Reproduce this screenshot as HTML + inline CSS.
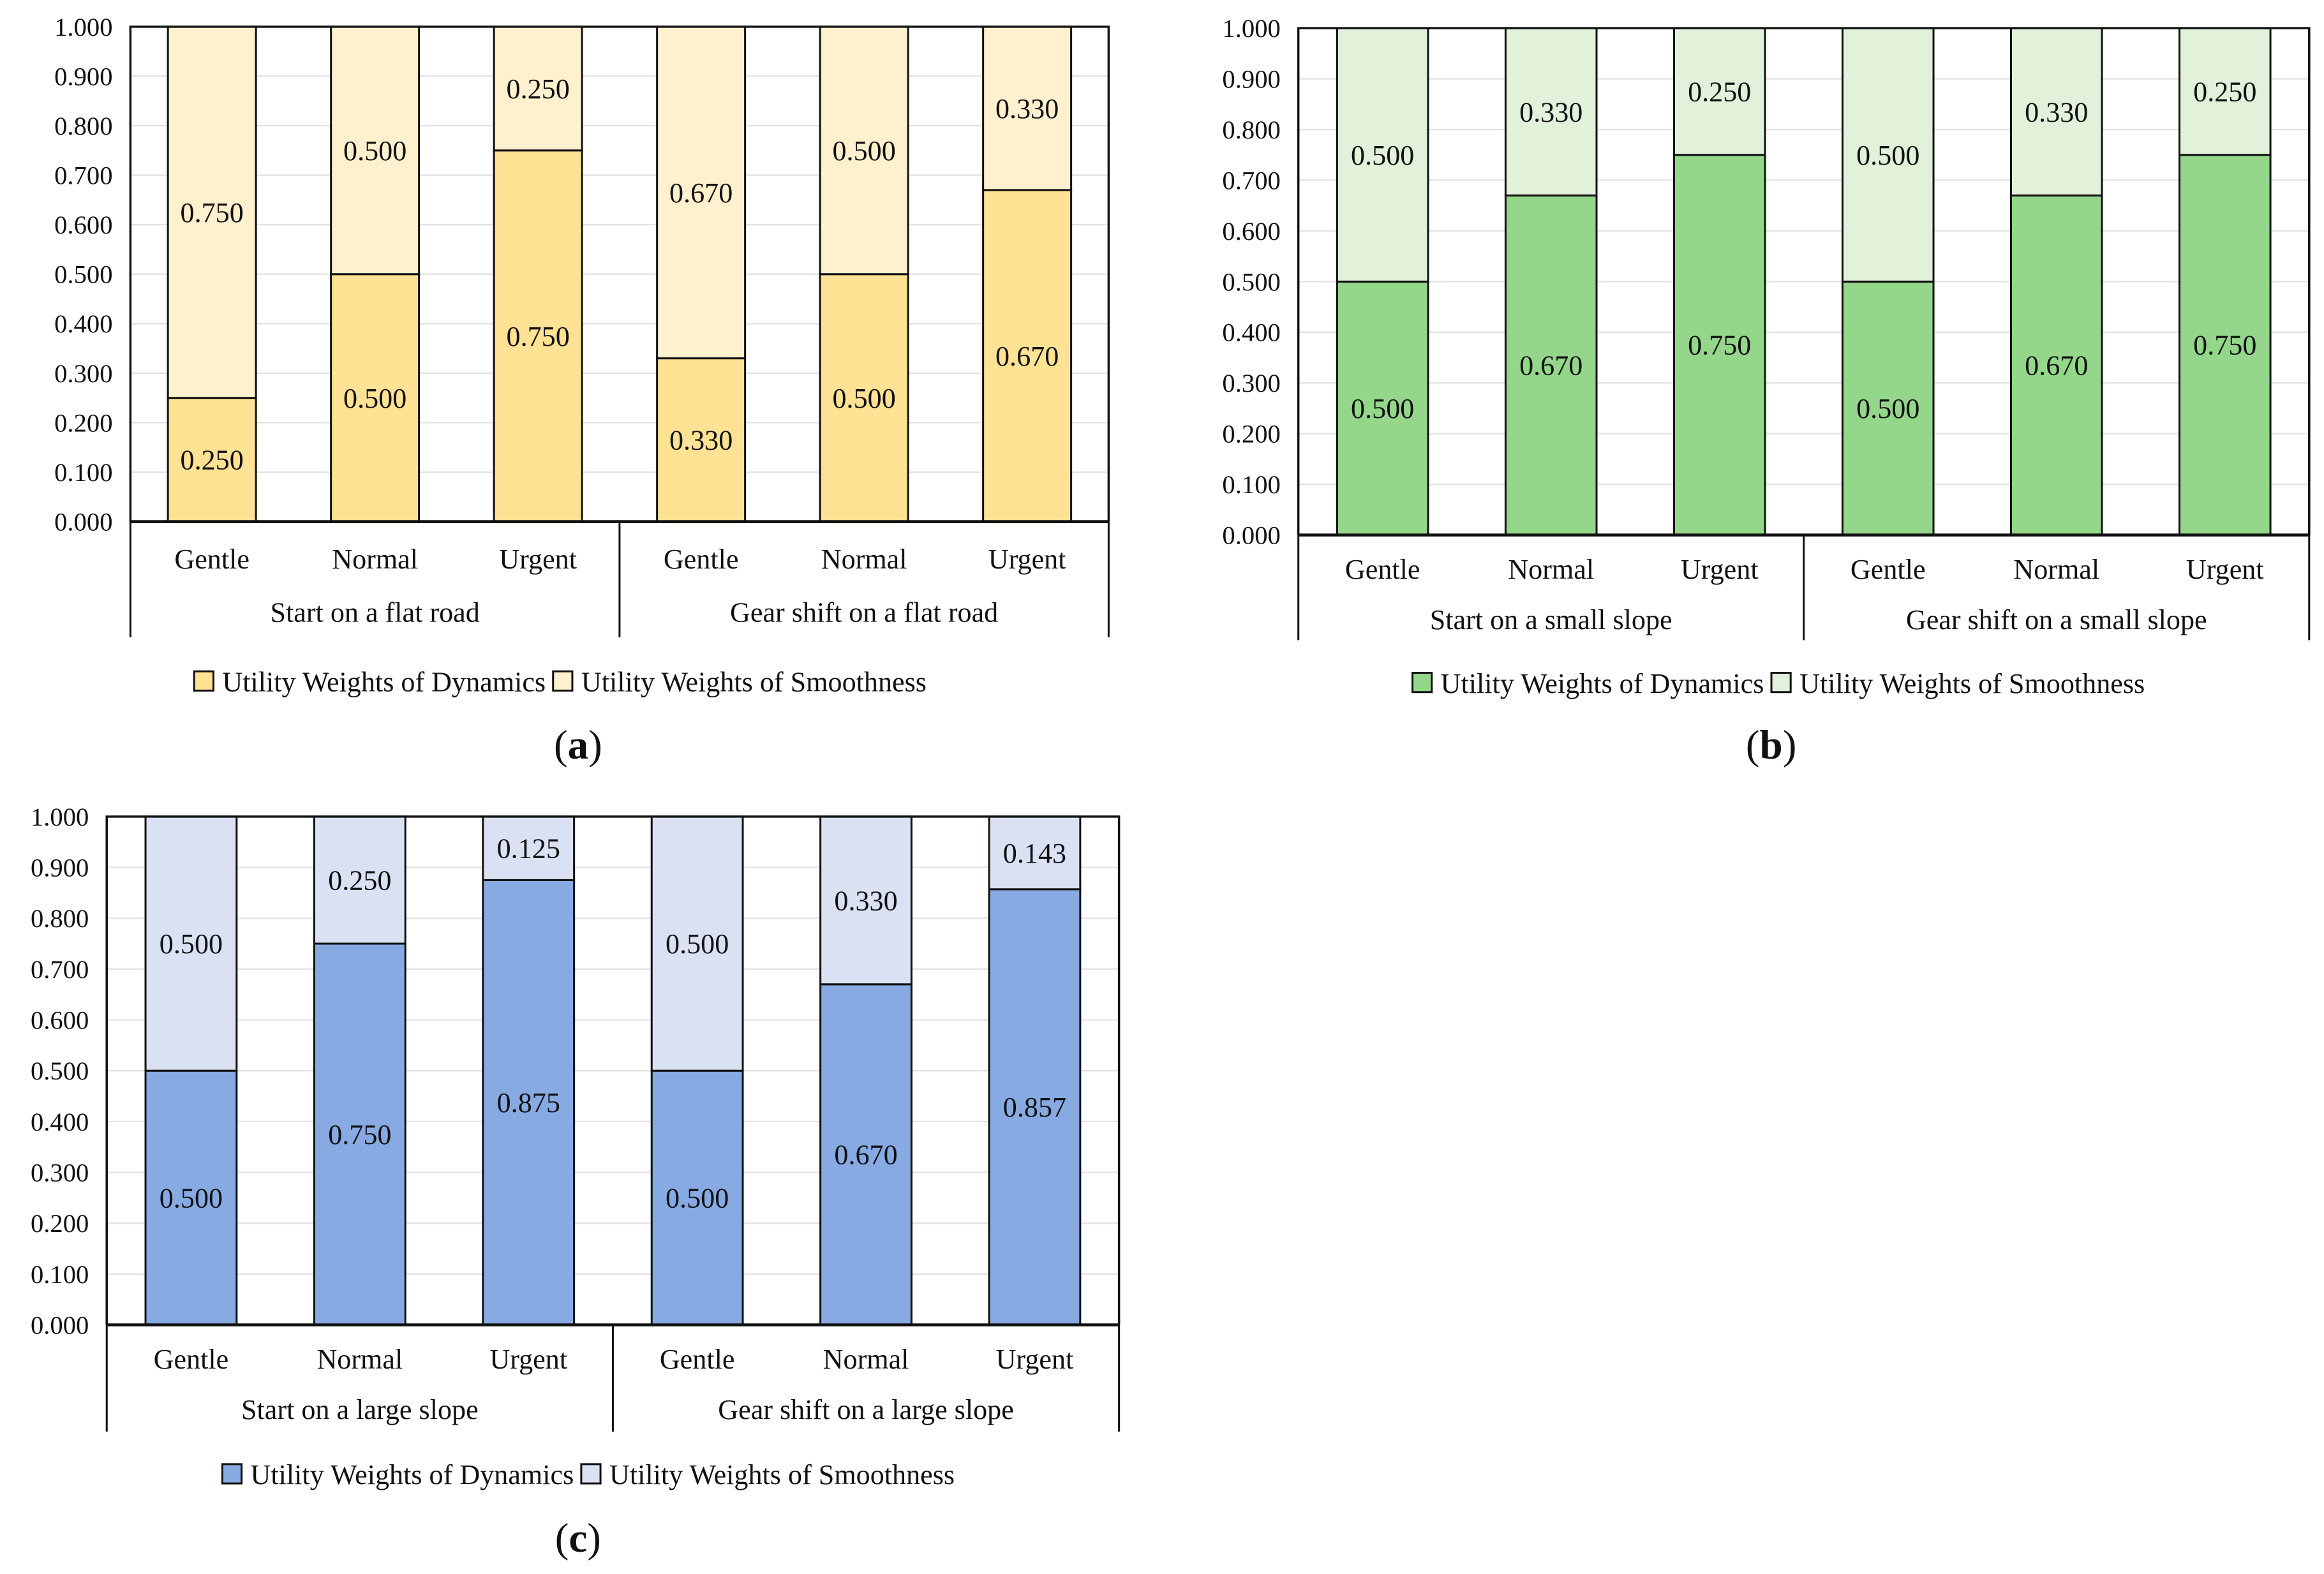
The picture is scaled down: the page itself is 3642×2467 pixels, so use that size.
<!DOCTYPE html>
<html><head><meta charset="utf-8"><style>
html,body{margin:0;padding:0;background:#fff;}
svg{display:block;font-family:"Liberation Serif",serif;}
</style></head><body>
<svg id="root" xmlns="http://www.w3.org/2000/svg" width="3642" height="2467" viewBox="0 0 1568 1062.1"></svg>
<script>
const tickValues=[0,0.1,0.2,0.3,0.4,0.5,0.6,0.7,0.8,0.9,1.0];
const categories=["Gentle","Normal","Urgent","Gentle","Normal","Urgent"];
const groupsA=["Start on a flat road","Gear shift on a flat road"];
const groupsB=["Start on a small slope","Gear shift on a small slope"];
const groupsC=["Start on a large slope","Gear shift on a large slope"];
const dynA=[0.250,0.500,0.750,0.330,0.500,0.670];
const smoA=[0.750,0.500,0.250,0.670,0.500,0.330];
const dynB=[0.500,0.670,0.750,0.500,0.670,0.750];
const smoB=[0.500,0.330,0.250,0.500,0.330,0.250];
const dynC=[0.500,0.750,0.875,0.500,0.670,0.857];
const smoC=[0.500,0.250,0.125,0.500,0.330,0.143];
const seriesNames=["Utility Weights of Dynamics","Utility Weights of Smoothness"];

const NS="http://www.w3.org/2000/svg";
const root=document.getElementById('root');
const FS=19;
function el(tag,attrs,parent,text){const e=document.createElementNS(NS,tag);for(const k in attrs)e.setAttribute(k,attrs[k]);if(text!==undefined)e.textContent=text;parent.appendChild(e);return e;}

function chart(cfg){
  const g=el('g',{},root);
  
  
  const L=cfg.left,R=cfg.right,T=cfg.top,B=cfg.bottom;
  const y=v=>B-(B-T)*v;
  const slot=(R-L)/categories.length;
  const x=i=>L+slot*(i+0.5);
  const bw=slot*0.54;
  tickValues.forEach(t=>{
    const ln=el('line',{x1:L,x2:R,y1:y(t),y2:y(t),stroke:'#e3e3e3','stroke-width':1},g);
    
    
    const tx=el('text',{x:L-12,y:y(t)+6,'font-size':17.5,'text-anchor':'end',fill:'#111'},g,t.toFixed(3));
    
    
  });
  categories.forEach((c,i)=>{
    const d=cfg.dyn[i],s=cfg.smo[i];
    const r1=el('rect',{x:x(i)-bw/2,y:y(d),width:bw,height:y(0)-y(d),fill:cfg.c1,stroke:'#111','stroke-width':1.3},g);
    
    
    const r2=el('rect',{x:x(i)-bw/2,y:y(d+s),width:bw,height:y(d)-y(d+s),fill:cfg.c2,stroke:'#111','stroke-width':1.3},g);
    
    
    const t1=el('text',{x:x(i),y:(y(0)+y(d))/2+6.5,'font-size':FS,'text-anchor':'middle',fill:'#111'},g,d.toFixed(3));
    
    
    const t2=el('text',{x:x(i),y:(y(d)+y(d+s))/2+6.5,'font-size':FS,'text-anchor':'middle',fill:'#111'},g,s.toFixed(3));
    
    
    const cl=el('text',{x:x(i),y:cfg.catY+6.5,'font-size':FS,'text-anchor':'middle',fill:'#111'},g,c);
    
    
  });
  const fr=el('path',{d:`M${L},${B} L${L},${T} L${R},${T} L${R},${B}`,fill:'none',stroke:'#111','stroke-width':1.5},g);
  
  
  const ax=el('line',{x1:L,x2:R,y1:B,y2:B,stroke:'#111','stroke-width':2},g);
  
  
  const mid=(L+R)/2;
  const sep=el('path',{d:`M${L},${B} L${L},${cfg.catBottom} M${mid},${B} L${mid},${cfg.catBottom} M${R},${B} L${R},${cfg.catBottom}`,fill:'none',stroke:'#111','stroke-width':1.3},g);
  
  
  cfg.groups.forEach((gn,k)=>{
    const gt=el('text',{x:L+(R-L)/4*(1+2*k),y:cfg.groupY+6.5,'font-size':FS,'text-anchor':'middle',fill:'#111'},g,gn);
    
    
  });
  const lg=el('g',{},g);
  
  
  const lx=cfg.legX, ly=cfg.legY;
  const s1=el('rect',{x:lx,y:ly-7,width:13,height:13,fill:cfg.c1,stroke:'#111','stroke-width':1.3},lg);
  
  
  const l1=el('text',{x:lx+19,y:ly+6.5,'font-size':FS,fill:'#111'},lg,seriesNames[0]);
  
  
  let w=233;
  try{const ww=l1.getComputedTextLength(); if(ww>0) w=ww;}catch(e){}
  const x2=lx+19+w+5;
  const s2=el('rect',{x:x2,y:ly-7,width:13,height:13,fill:cfg.c2,stroke:'#111','stroke-width':1.3},lg);
  
  
  const l2=el('text',{x:x2+19,y:ly+6.5,'font-size':FS,fill:'#111'},lg,seriesNames[1]);
  
  
  const pl=el('text',{x:cfg.capX,y:cfg.capY+9,'font-size':28,'text-anchor':'middle',fill:'#111'},g,'');
  
  
  el('tspan',{},pl,'(');
  el('tspan',{'font-weight':'bold'},pl,cfg.id);
  el('tspan',{},pl,')');
}
chart({id:'a',left:88,right:748,top:18,bottom:352,catY:377,groupY:413,catBottom:430,groups:groupsA,dyn:dynA,smo:smoA,c1:'#FFE293',c2:'#FFF0CE',legX:131,legY:460,capX:390,capY:503});
chart({id:'b',left:876,right:1558,top:19,bottom:361,catY:384,groupY:418,catBottom:432,groups:groupsB,dyn:dynB,smo:smoB,c1:'#94D78A',c2:'#E1F1DA',legX:953,legY:461,capX:1195,capY:503});
chart({id:'c',left:72,right:755,top:551,bottom:894,catY:917,groupY:951,catBottom:966,groups:groupsC,dyn:dynC,smo:smoC,c1:'#87AAE2',c2:'#D9E1F3',legX:150,legY:995,capX:390,capY:1038});
</script>
</body></html>
